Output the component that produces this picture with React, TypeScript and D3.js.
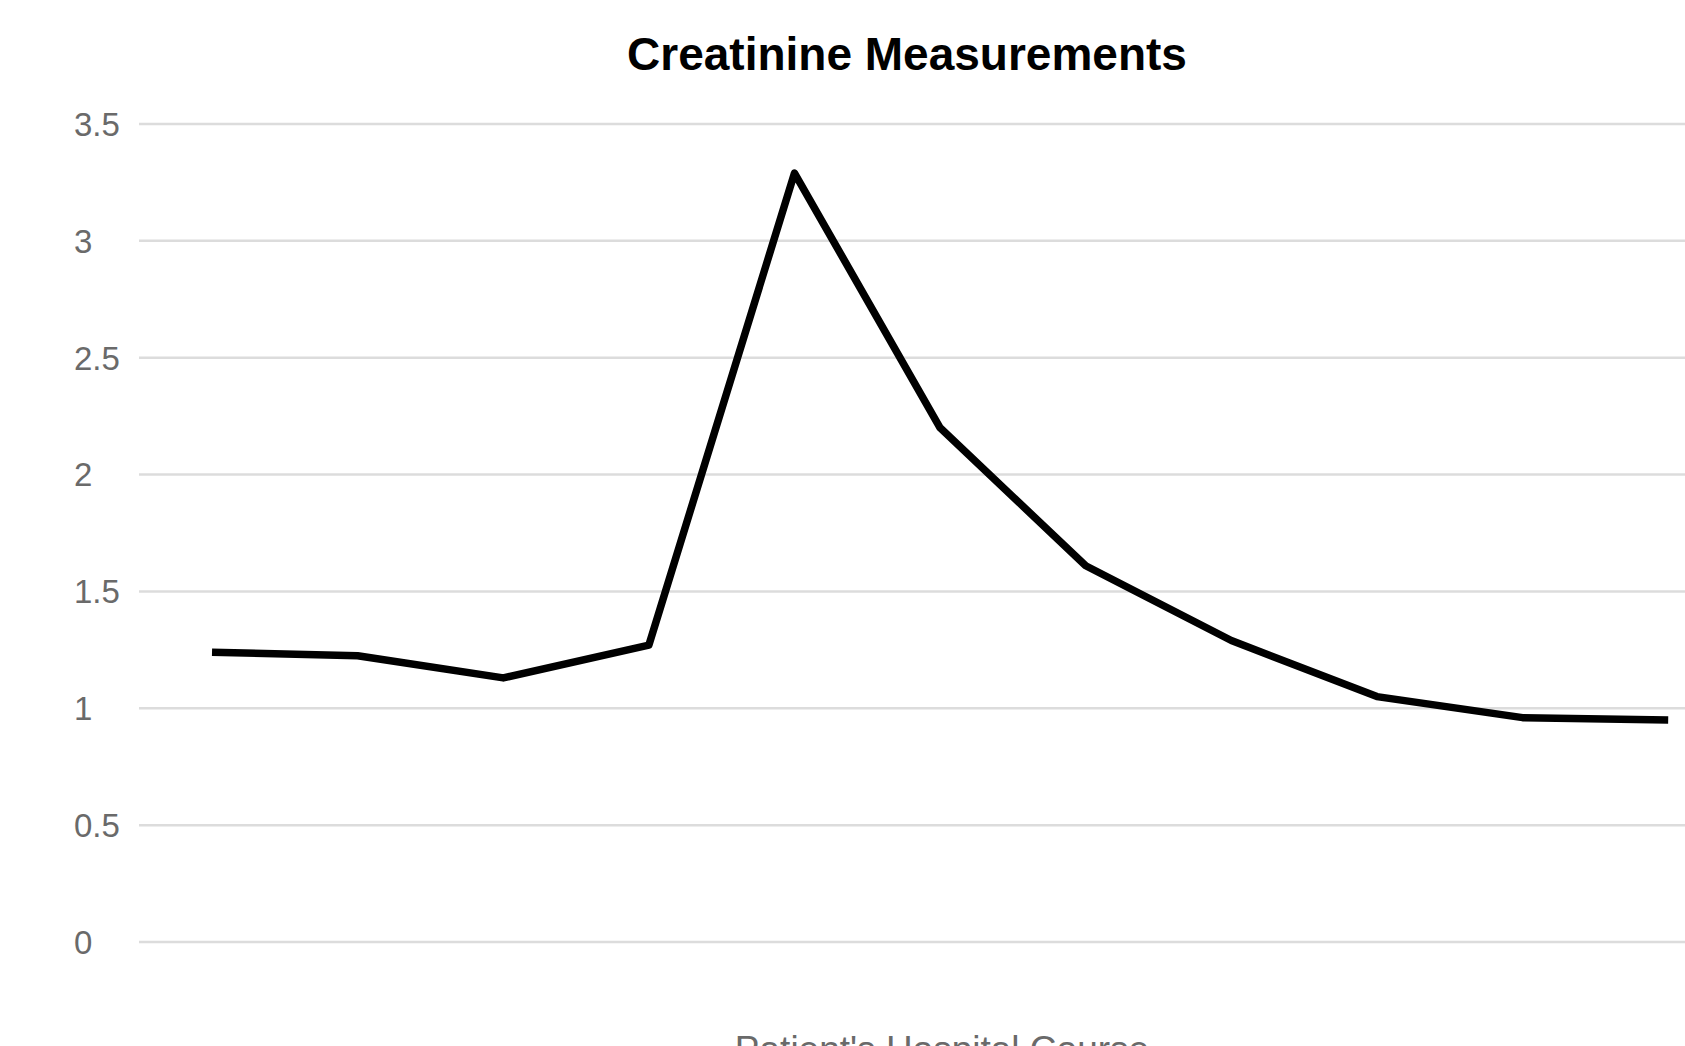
import React from "react";
import * as d3 from "d3";

const categories = ["1", "2", "3", "4", "5", "6", "7", "8", "9", "10", "11"];
const creatinine = [1.24, 1.225, 1.13, 1.27, 3.29, 2.2, 1.61, 1.29, 1.05, 0.96, 0.95];
const yTicks = [0, 0.5, 1, 1.5, 2, 2.5, 3, 3.5];
const titleText = "Creatinine Measurements";
const xAxisTitle = "Patient's Hospital Course";

const W = 1685;
const H = 1046;
const FONT = "'Liberation Sans', Arial, sans-serif";

export default function App() {
  const x = d3.scalePoint<string>().domain(categories).range([139.2, 1741]).padding(0.5);
  const y = d3.scaleLinear().domain([0, 3.5]).range([942, 124]);
  const line = d3
    .line<number>()
    .x((_, i) => x(categories[i]) as number)
    .y((d) => y(d));

  return (
    <svg
      width={W}
      height={H}
      style={{ position: "absolute", left: 0, top: 0, background: "#fff" }}
    >
      <rect x={0} y={0} width={W} height={H} fill="#fff" />
      <text
        x={907}
        y={70}
        textAnchor="middle"
        fontFamily={FONT}
        fontWeight="bold"
        fontSize={46}
        fill="#000"
      >
        {titleText}
      </text>
      {yTicks.map((t) => (
        <g key={t}>
          <line x1={139} x2={W} y1={y(t)} y2={y(t)} stroke="#dcdcdc" strokeWidth={2.5} />
          <text
            x={74}
            y={y(t)}
            dy="0.36em"
            fontFamily={FONT}
            fontSize={33}
            fill="#6a6a6a"
          >
            {String(t)}
          </text>
        </g>
      ))}
      <path
        d={line(creatinine) || ""}
        fill="none"
        stroke="#000"
        strokeWidth={7.5}
        strokeLinejoin="round"
        strokeLinecap="butt"
      />
      <text
        x={942}
        y={1062}
        textAnchor="middle"
        fontFamily={FONT}
        fontSize={37}
        fill="#6a6a6a"
      >
        {xAxisTitle}
      </text>
    </svg>
  );
}
